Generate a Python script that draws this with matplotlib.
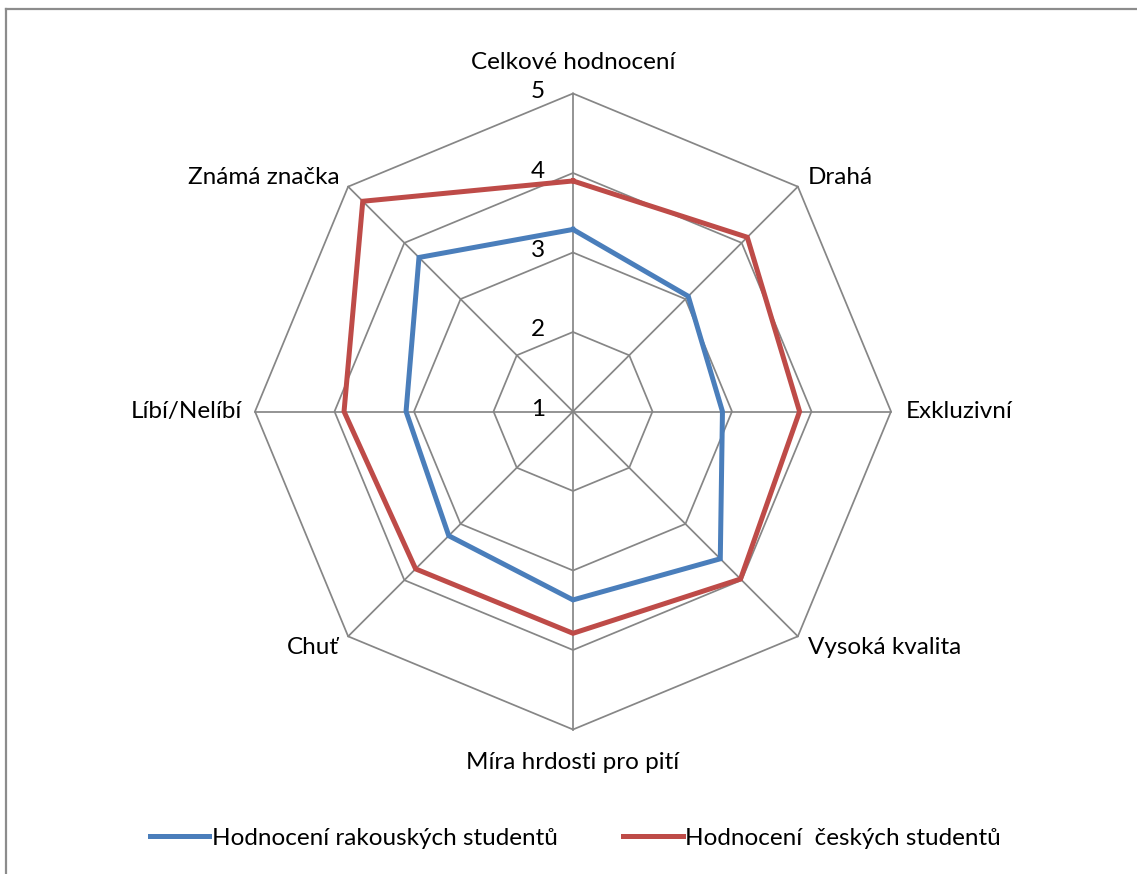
import numpy as np
import matplotlib
matplotlib.use("Agg")
import matplotlib.pyplot as plt
from matplotlib.lines import Line2D

plt.rcParams['font.family'] = ['Lato', 'DejaVu Sans']

# categories clockwise from the top
categories = ['Celkové hodnocení', 'Drahá', 'Exkluzivní', 'Vysoká kvalita',
              'Míra hrdosti pro pití', 'Chuť', 'Líbí/Nelíbí', 'Známá značka']
rakousti = [3.29, 3.05, 2.88, 3.62, 3.37, 3.21, 3.10, 3.74]
cesti = [3.90, 4.10, 3.85, 3.98, 3.79, 3.80, 3.88, 4.74]
levels = [1, 2, 3, 4, 5]
series_names = ['Hodnocení rakouských studentů', 'Hodnocení  českých studentů']

BLUE = '#4a7ebb'
RED = '#be4b48'
GRID = '#868686'
FS = 17.5

n = len(categories)
angles = np.pi / 2 - np.arange(n) * 2 * np.pi / n
rmin = levels[0]


def to_xy(vals):
    r = np.asarray(vals, dtype=float) - rmin
    x = r * np.cos(angles)
    y = r * np.sin(angles)
    return np.append(x, x[0]), np.append(y, y[0])


fig = plt.figure(figsize=(11.37, 8.74), dpi=100)
ax = fig.add_axes([0, 0, 1, 1])
unit = 79.5
ax.set_xlim(-573 / unit, (1137 - 573) / unit)
ax.set_ylim(-(874 - 411.5) / unit, 411.5 / unit)
ax.axis('off')

# polygon grid
for lv in levels[1:]:
    gx, gy = to_xy([lv] * n)
    ax.plot(gx, gy, color=GRID, lw=1.25, zorder=1)
# spokes
top = levels[-1] - rmin
for a in angles:
    ax.plot([0, top * np.cos(a)], [0, top * np.sin(a)], color=GRID, lw=1.25, zorder=1)

# scale labels
for lv in levels:
    ax.annotate(str(lv), (0, lv - rmin), xytext=(-28, 2), textcoords='offset pixels',
                ha='right', va='center', fontsize=FS)

# data
bx, by = to_xy(rakousti)
rx, ry = to_xy(cesti)
ax.plot(bx, by, color=BLUE, lw=3.6, solid_joinstyle='miter', zorder=3)
ax.plot(rx, ry, color=RED, lw=3.6, solid_joinstyle='miter', zorder=3)

# category labels
offsets = [(0, 31, 'center'), (10, 9, 'left'), (15, 0, 'left'), (10, -11, 'left'),
           (0, -33, 'center'), (-9, -11, 'right'), (-13, 0, 'right'), (-9, 9, 'right')]
for a, name, (dx, dy, ha) in zip(angles, categories, offsets):
    ax.annotate(name, (top * np.cos(a), top * np.sin(a)), xytext=(dx, dy),
                textcoords='offset pixels', ha=ha, va='center', fontsize=FS)

# legend
handles = [Line2D([], [], color=BLUE, lw=3.6), Line2D([], [], color=RED, lw=3.6)]
fig.legend(handles, series_names, loc='center', bbox_to_anchor=(0.506, 0.041),
           ncol=2, frameon=False, fontsize=FS, handlelength=2.45,
           handletextpad=0.1, columnspacing=2.7)

# chart border (left and top)
fig.add_artist(Line2D([6 / 1137, 6 / 1137], [0, 1 - 9 / 874], color='#8c8c8c', lw=1.6,
                      transform=fig.transFigure))
fig.add_artist(Line2D([6 / 1137, 1], [1 - 9 / 874, 1 - 9 / 874], color='#8c8c8c', lw=1.6,
                      transform=fig.transFigure))

fig.savefig('out.png', dpi=100)
